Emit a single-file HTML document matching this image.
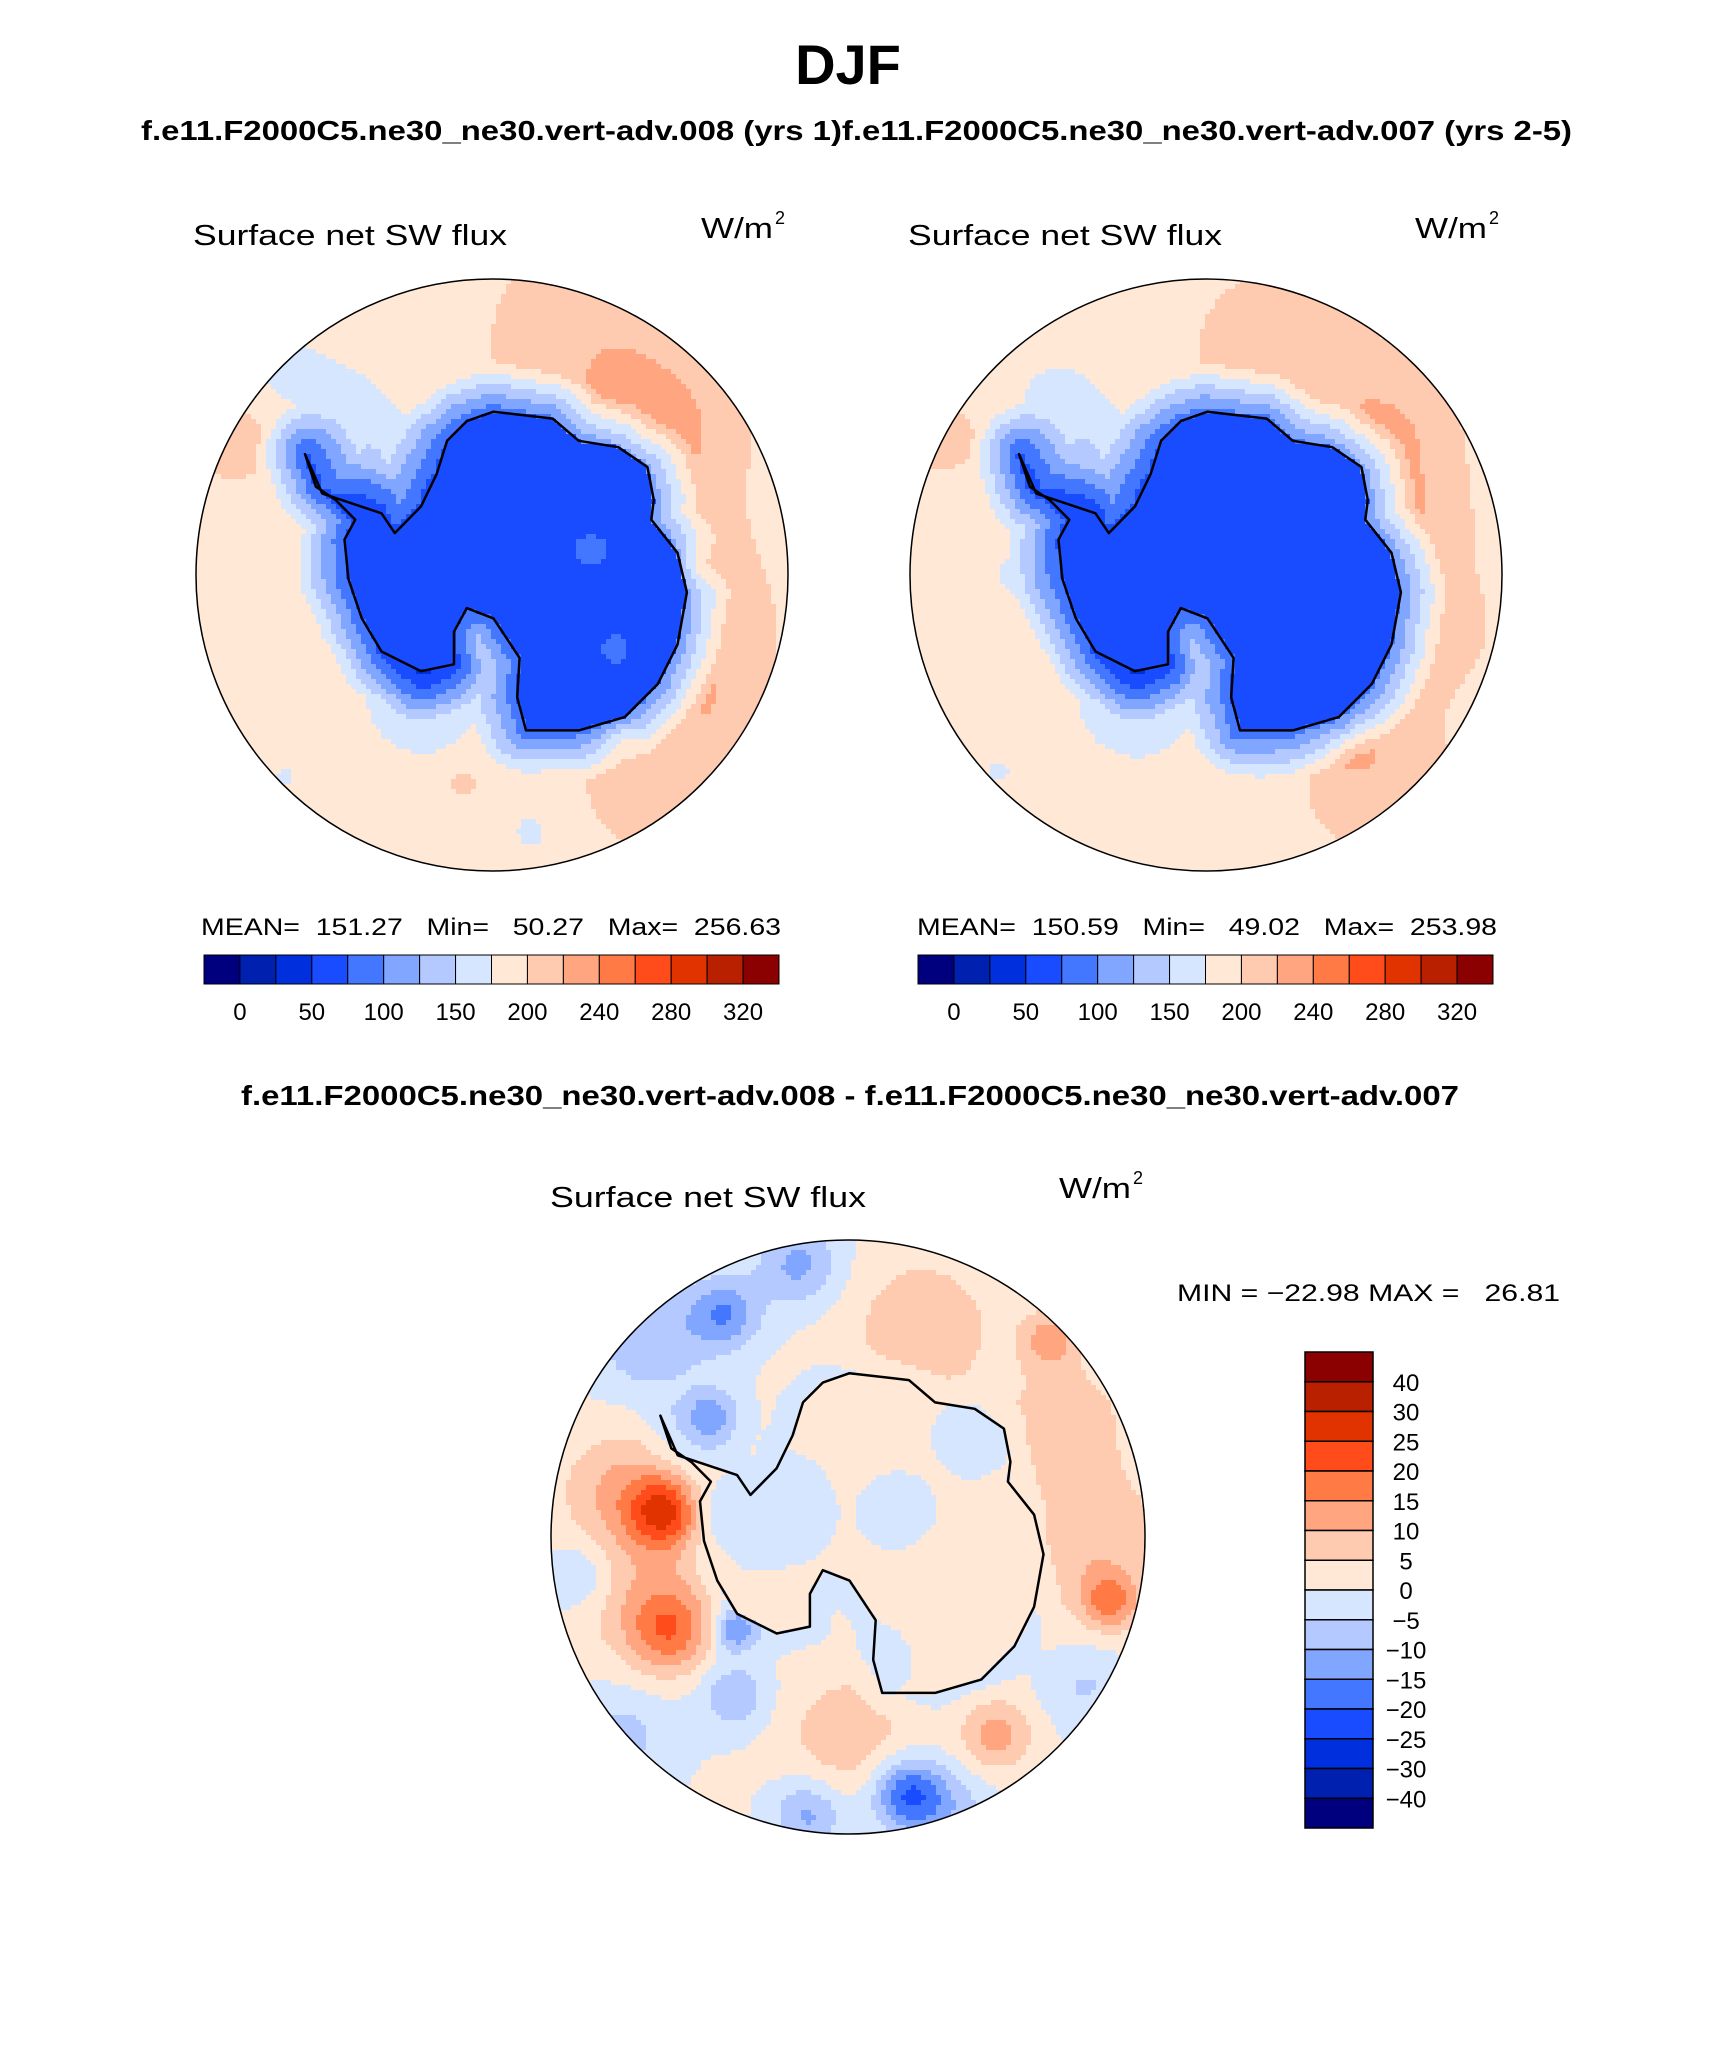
<!DOCTYPE html>
<html><head><meta charset="utf-8">
<style>
html,body{margin:0;padding:0;background:#fff;}
svg{display:block;}
text{font-family:"Liberation Sans",sans-serif;fill:#000;}
.b{font-weight:bold;}
</style></head>
<body>
<svg id="fig" width="1710" height="2061" viewBox="0 0 1710 2061" xmlns="http://www.w3.org/2000/svg">
<text class="b" x="848" y="84" font-size="56" text-anchor="middle">DJF</text>
<text class="b" x="141" y="140" font-size="28" textLength="1431" lengthAdjust="spacingAndGlyphs">f.e11.F2000C5.ne30_ne30.vert-adv.008 (yrs 1)f.e11.F2000C5.ne30_ne30.vert-adv.007 (yrs 2-5)</text>
<text x="193" y="245" font-size="29" textLength="314" lengthAdjust="spacingAndGlyphs">Surface net SW flux</text>
<text x="701" y="238" font-size="29" textLength="72" lengthAdjust="spacingAndGlyphs">W/m</text>
<text x="775" y="224" font-size="18">2</text>
<text x="908" y="245" font-size="29" textLength="314" lengthAdjust="spacingAndGlyphs">Surface net SW flux</text>
<text x="1415" y="238" font-size="29" textLength="72" lengthAdjust="spacingAndGlyphs">W/m</text>
<text x="1489" y="224" font-size="18">2</text>
<text x="201" y="935" font-size="24" textLength="580" lengthAdjust="spacingAndGlyphs" xml:space="preserve">MEAN=  151.27   Min=   50.27   Max=  256.63</text>
<text x="917" y="935" font-size="24" textLength="580" lengthAdjust="spacingAndGlyphs" xml:space="preserve">MEAN=  150.59   Min=   49.02   Max=  253.98</text>
<text class="b" x="241" y="1105" font-size="28" textLength="1218" lengthAdjust="spacingAndGlyphs">f.e11.F2000C5.ne30_ne30.vert-adv.008 - f.e11.F2000C5.ne30_ne30.vert-adv.007</text>
<text x="550" y="1207" font-size="29" textLength="316" lengthAdjust="spacingAndGlyphs">Surface net SW flux</text>
<text x="1059" y="1198" font-size="29" textLength="72" lengthAdjust="spacingAndGlyphs">W/m</text>
<text x="1133" y="1184" font-size="18">2</text>
<text x="1177" y="1301" font-size="24" textLength="383" lengthAdjust="spacingAndGlyphs" xml:space="preserve">MIN = −22.98 MAX =   26.81</text>
<g id="maps"></g>
<g id="bars"></g>
</svg>
<script>
// ---- data arrays ----
const palette = ['#00007f','#0020b0','#0030dd','#1a4cff','#4477ff','#80a6ff','#b3c9ff','#d6e6ff','#ffe8d6','#ffcbb0','#ffa680','#ff7a45','#ff4c1a','#e03300','#b82000','#8b0000'];
const absLevels = [0,25,50,75,100,125,150,175,200,220,240,260,280,300,320];
const absTickLabels = ['0','50','100','150','200','240','280','320'];
const diffLevels = [-40,-30,-25,-20,-15,-10,-5,0,5,10,15,20,25,30,40];
const diffTickLabels = ['40','30','25','20','15','10','5','0','−5','−10','−15','−20','−25','−30','−40'];
// Antarctic coastline in polar-stereo degrees of colatitude [x, y]
const coast = [[0.3,-33.1],[12.3,-31.7],[17.6,-27.2],[25.6,-25.9],[31.5,-21.9],[32.8,-15.2],[32.3,-11.2],[37.6,-4.5],[39.5,3.5],[37.6,14.1],[33.6,22.1],[26.9,28.8],[17.6,31.5],[6.9,31.5],[5.1,24.8],[5.6,16.8],[0.3,8.8],[-5.1,6.7],[-7.7,11.5],[-7.7,18.1],[-14.4,19.5],[-22.4,15.5],[-26.4,8.8],[-29.1,0.8],[-29.9,-7.2],[-27.7,-11.2],[-31.7,-15.2],[-35.7,-17.9],[-37.9,-24.5],[-34.4,-16.5],[-22.4,-12.5],[-19.7,-8.5],[-14.4,-13.9],[-11.2,-20.5],[-9.1,-27.2],[-5.1,-31.2]];
// anomaly blobs [x, y, amplitude, width]
const blobsA = [[33,-28,38,11],[40,-5,26,7],[20,-48,22,14],[44,9,22,9],[36,40,22,12],[45,25,16,8],[-42,-42,-22,6],[-30,-36,-20,7],[-42,41,-18,5],[8,52,-22,4],[-6,42,14,3],[-53,-28,20,6],[-14,25,-45,8],[-24,-22,-42,8],[-38,0,-15,6],[42,-2,30,3],[26,33,30,3],[-40,-12,12,6]];
const landA = [[20,-5,15,6],[25,15,15,5],[-5,-10,-10,8]];
const blobsB = [[36,-27,34,10],[42,-10,22,8],[15,-45,20,14],[45,10,20,10],[34,40,22,12],[-42,40,-16,5],[-53,-28,18,6],[-30,-36,-20,7],[-14,25,-45,8],[-24,-22,-42,8],[-38,0,-18,6],[30,35,28,3],[12,40,-12,5]];
const landB = [[25,0,12,6],[-5,-10,-10,8]];
const blobsD = [[-37,-5,22,5],[-36,19,16,6],[-46,-10,10,8],[-42,10,8,10],[53,13,15,4],[48,0,9,11],[44,-24,8,8],[41,-40,12,4],[15,-42,8,11],[-25,-45,-15,5],[-28,-24,-15,4],[-40,-40,-10,8],[12,52,-20,5],[-8,56,-12,5],[-23,32,-10,5],[-23,19,-15,3],[30,40,12,5],[0,40,8,9],[-54,8,-8,5],[-10,-55,-12,6],[48,30,-6,6],[-45,40,-7,7],[20,55,-8,6]];
const landD = [[-15,-5,-5,6],[10,-5,-4,4],[20,10,4,5],[-10,15,4,4],[25,-20,-4,4],[5,25,-4,4]];
const baseA = {land:62, coastVal:80, ocean:192, ramp:10};
const baseB = {land:62, coastVal:80, ocean:190, ramp:10};
const baseD = {land:0.5, coastVal:-3, ocean:0.5, ramp:6};

const NS='http://www.w3.org/2000/svg';
function mk(tag, attrs, parent){const e=document.createElementNS(NS,tag);for(const k in attrs)e.setAttribute(k,attrs[k]);parent.appendChild(e);return e;}
function inside(x,y){let c=false;for(let i=0,j=coast.length-1;i<coast.length;j=i++){const [xi,yi]=coast[i],[xj,yj]=coast[j];if(((yi>y)!=(yj>y))&&(x<(xj-xi)*(y-yi)/(yj-yi)+xi))c=!c;}return c;}
function distCoast(x,y){let m=1e9;for(let i=0;i<coast.length;i++){const [x1,y1]=coast[i],[x2,y2]=coast[(i+1)%coast.length];const dx=x2-x1,dy=y2-y1;let t=((x-x1)*dx+(y-y1)*dy)/(dx*dx+dy*dy);t=Math.max(0,Math.min(1,t));const d=Math.hypot(x-x1-t*dx,y-y1-t*dy);if(d<m)m=d;}return m;}
function blobSum(b,x,y){let s=0;for(const [bx,by,a,w] of b){s+=a*Math.exp(-((x-bx)**2+(y-by)**2)/(2*w*w));}return s;}
function field(x,y,base,blobs,land){
  if(inside(x,y)) return base.land+blobSum(land,x,y);
  const d=distCoast(x,y);
  const v=base.coastVal+(base.ocean-base.coastVal)*Math.min(d/base.ramp,1);
  return v+blobSum(blobs,x,y);
}
function colorIdx(v,levels){let i=0;while(i<levels.length&&v>=levels[i])i++;return i;}

function drawMap(name,cx,cy,R,base,blobs,land,levels){
  const g=mk('g',{},document.getElementById('maps'));
  
  
  const clip=mk('clipPath',{id:'clip-'+name},g);
  mk('circle',{cx:cx,cy:cy,r:R},clip);
  const cells=mk('g',{'clip-path':'url(#clip-'+name+')'},g);
  const scale=R/60, step=5;
  for(let py=cy-R;py<cy+R;py+=step){
    for(let px=cx-R;px<cx+R;px+=step){
      const x=(px+step/2-cx)/scale, y=(py+step/2-cy)/scale;
      if(Math.hypot(x,y)>61)continue;
      const v=field(x,y,base,blobs,land);
      mk('rect',{x:px,y:py,width:step+0.6,height:step+0.6,fill:palette[colorIdx(v,levels)]},cells);
    }
  }
  const d=coast.map((p,i)=>(i?'L':'M')+(cx+p[0]*scale).toFixed(1)+' '+(cy+p[1]*scale).toFixed(1)).join(' ')+'Z';
  const cl=mk('path',{d:d,fill:'none',stroke:'#000','stroke-width':2.5,'stroke-linejoin':'round'},g);
  
  
  const bd=mk('circle',{cx:cx,cy:cy,r:R,fill:'none',stroke:'#000','stroke-width':1.5},g);
  
  
}
drawMap('map-test-case',492,575,296,baseA,blobsA,landA,absLevels);
drawMap('map-control-case',1206,575,296,baseB,blobsB,landB,absLevels);
drawMap('map-difference',848,1537,297,baseD,blobsD,landD,diffLevels);

function hbar(name,x0,y0,w,h){
  const g=mk('g',{},document.getElementById('bars'));
  
  
  const bw=w/palette.length;
  palette.forEach((c,i)=>{
    const r=mk('rect',{x:x0+i*bw,y:y0,width:bw,height:h,fill:c,stroke:'#000','stroke-width':1},g);
    
    
  });
  absTickLabels.forEach((t,k)=>{
    const j=1+2*k;
    const tx=mk('text',{x:x0+j*bw,y:y0+h+36,'font-size':24,'text-anchor':'middle'},g);
    tx.textContent=t;
    
    
  });
}
hbar('left-colorbar',204,955,575,29);
hbar('right-colorbar',918,955,575,29);

(function(){
  const g=mk('g',{},document.getElementById('bars'));
  
  
  const x0=1305,y0=1352,w=68,h=476,n=palette.length,bh=h/n;
  for(let i=0;i<n;i++){
    const r=mk('rect',{x:x0,y:y0+i*bh,width:w,height:bh,fill:palette[n-1-i],stroke:'#000','stroke-width':1.5},g);
    
    
  }
  diffTickLabels.forEach((t,k)=>{
    const tx=mk('text',{x:1406,y:y0+(k+1)*bh+9,'font-size':24,'text-anchor':'middle'},g);
    tx.textContent=t;
    
    
  });
})();
</script>
</body></html>
